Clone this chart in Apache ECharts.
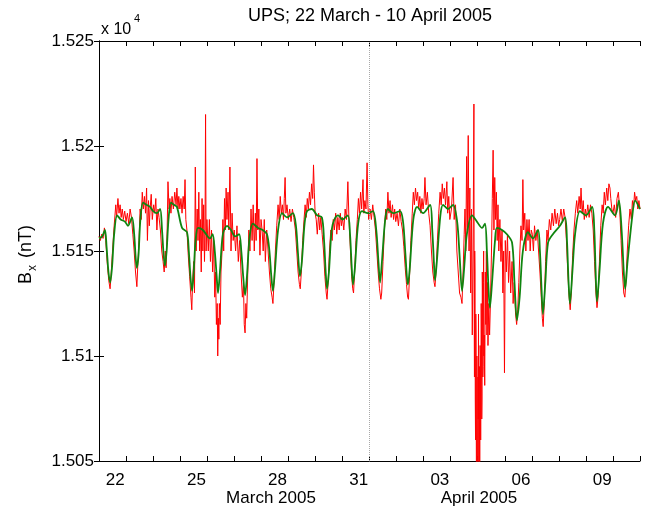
<!DOCTYPE html>
<html><head><meta charset="utf-8">
<script src="https://cdn.jsdelivr.net/npm/echarts@6/dist/echarts.min.js"></script>
<style>html,body{margin:0;padding:0;background:#fff}#c{width:646px;height:513px}</style>
</head><body><div id="c"></div>
<script>
// x = days since 22 March 2005 00:00 ; y = Bx in nT
const dayTickLabels = ['22','25','28','31','03','06','09'];
const dayTickPos = [0.6,3.6,6.6,9.6,12.6,15.6,18.6];
const monthLabels = ['March 2005','April 2005'];
const dividerDay = 10; // 1 April 00:00
const yMin = 15050, yMax = 15250, yStep = 50;

const greenPts = [
[0.00,15156],[0.12,15157],[0.22,15160],[0.28,15152],[0.35,15140],[0.41,15135],[0.48,15142],[0.56,15158],[0.67,15167],[0.80,15165],[0.96,15164],
[1.07,15162],[1.22,15166],[1.30,15158],[1.36,15146],[1.40,15142],[1.46,15148],[1.53,15165],[1.63,15173],[1.75,15172],[1.89,15171],
[2.00,15169],[2.14,15168],[2.26,15170],[2.33,15160],[2.39,15148],[2.44,15143],[2.50,15150],[2.57,15165],[2.66,15173],[2.77,15172],[2.88,15171],
[3.07,15161],[3.25,15159],[3.32,15150],[3.38,15138],[3.44,15131],[3.50,15140],[3.57,15155],[3.66,15161],[3.84,15160],
[4.10,15156],[4.20,15158],[4.28,15150],[4.35,15138],[4.40,15130],[4.47,15140],[4.58,15158],[4.73,15162],[4.88,15160],
[5.03,15157],[5.18,15158],[5.26,15150],[5.33,15138],[5.40,15129],[5.47,15138],[5.57,15157],[5.69,15163],[5.88,15161],
[6.05,15160],[6.21,15158],[6.30,15150],[6.37,15138],[6.43,15131],[6.50,15140],[6.62,15160],[6.77,15168],[6.95,15166],
[7.17,15168],[7.28,15162],[7.35,15150],[7.43,15138],[7.50,15145],[7.60,15163],[7.69,15169],[7.87,15170],
[8.06,15167],[8.24,15166],[8.32,15155],[8.38,15140],[8.43,15132],[8.50,15140],[8.60,15160],[8.70,15165],[8.84,15167],
[9.00,15165],[9.20,15167],[9.28,15158],[9.34,15143],[9.39,15134],[9.46,15142],[9.58,15163],[9.72,15169],[9.94,15168],
[10.13,15169],[10.25,15160],[10.33,15145],[10.39,15135],[10.46,15145],[10.58,15165],[10.68,15170],[10.87,15168],
[11.13,15169],[11.24,15164],[11.32,15150],[11.38,15138],[11.42,15134],[11.49,15142],[11.62,15165],[11.76,15171],[11.98,15168],
[12.24,15172],[12.32,15160],[12.38,15145],[12.42,15136],[12.49,15145],[12.62,15167],[12.72,15172],[12.90,15170],
[13.09,15172],[13.24,15164],[13.33,15148],[13.42,15131],[13.50,15142],[13.60,15158],[13.79,15167],[13.97,15164],
[14.16,15161],[14.27,15163],[14.34,15150],[14.40,15132],[14.45,15123],[14.53,15135],[14.64,15155],[14.71,15161],[14.90,15160],
[15.08,15158],[15.27,15154],[15.36,15135],[15.45,15117],[15.55,15128],[15.67,15150],[15.86,15159],
[16.04,15156],[16.23,15160],[16.30,15150],[16.36,15132],[16.41,15120],[16.50,15135],[16.60,15154],[16.78,15158],
[17.04,15162],[17.23,15166],[17.30,15155],[17.36,15135],[17.41,15125],[17.50,15140],[17.60,15158],[17.78,15169],
[18.00,15167],[18.23,15171],[18.31,15160],[18.36,15140],[18.41,15126],[18.50,15140],[18.63,15163],[18.82,15171],
[19.08,15167],[19.22,15174],[19.32,15160],[19.40,15140],[19.45,15132],[19.54,15145],[19.71,15166],[19.82,15174],[20.00,15170]
];

const redPts = [
[0.00,15157],[0.05,15155],[0.10,15158],[0.15,15156],[0.20,15161],[0.25,15155],[0.30,15145],[0.36,15136],[0.41,15132],[0.44,15137],[0.50,15150],[0.56,15162],[0.62,15172],[0.65,15166],[0.70,15175],[0.74,15168],[0.78,15172],[0.82,15166],[0.86,15170],[0.90,15165],[0.95,15169],
[1.00,15164],[1.05,15168],[1.10,15163],[1.15,15170],[1.20,15166],[1.25,15158],[1.30,15150],[1.35,15140],[1.40,15133],[1.43,15142],[1.48,15155],[1.52,15170],[1.56,15165],[1.60,15178],[1.64,15170],[1.68,15176],[1.72,15168],[1.76,15180],[1.79,15155],[1.83,15174],[1.86,15162],[1.89,15170],[1.93,15177],[1.97,15165],
[2.02,15172],[2.06,15168],[2.10,15175],[2.14,15160],[2.18,15170],[2.22,15166],[2.27,15160],[2.32,15150],[2.37,15145],[2.41,15140],[2.45,15150],[2.48,15142],[2.52,15160],[2.55,15183],[2.59,15170],[2.62,15175],[2.66,15168],[2.70,15176],[2.75,15170],[2.80,15178],[2.85,15172],[2.88,15180],[2.92,15170],[2.95,15176],[2.99,15170],
[3.03,15175],[3.07,15168],[3.11,15176],[3.15,15170],[3.18,15184],[3.21,15165],[3.25,15160],[3.30,15148],[3.35,15138],[3.40,15128],[3.43,15122],[3.46,15135],[3.50,15145],[3.53,15130],[3.56,15190],[3.59,15150],[3.63,15170],[3.66,15155],[3.69,15178],[3.72,15150],[3.75,15165],[3.78,15140],[3.81,15175],[3.84,15150],[3.87,15172],[3.90,15145],[3.92,15160],[3.94,15215],[3.96,15150],[3.99,15165],
[4.04,15150],[4.08,15165],[4.12,15145],[4.16,15160],[4.20,15140],[4.24,15155],[4.28,15128],[4.31,15140],[4.34,15115],[4.37,15125],[4.39,15100],[4.41,15118],[4.43,15108],[4.45,15125],[4.48,15115],[4.51,15140],[4.55,15150],[4.58,15165],[4.61,15150],[4.64,15175],[4.67,15160],[4.70,15180],[4.73,15165],[4.77,15178],[4.80,15160],[4.84,15190],[4.88,15150],[4.92,15168],[4.96,15155],
[5.00,15160],[5.05,15150],[5.10,15162],[5.15,15145],[5.20,15155],[5.25,15140],[5.30,15128],[5.34,15135],[5.37,15115],[5.40,15111],[5.43,15125],[5.46,15118],[5.50,15140],[5.54,15160],[5.58,15150],[5.62,15170],[5.66,15155],[5.70,15172],[5.74,15150],[5.78,15168],[5.81,15155],[5.84,15194],[5.87,15160],[5.91,15170],[5.95,15148],[5.99,15165],
[6.03,15160],[6.07,15150],[6.11,15165],[6.15,15145],[6.20,15160],[6.25,15150],[6.30,15140],[6.35,15132],[6.40,15128],[6.43,15125],[6.47,15135],[6.52,15150],[6.57,15162],[6.62,15172],[6.66,15165],[6.70,15176],[6.74,15168],[6.78,15172],[6.82,15165],[6.85,15175],[6.88,15185],[6.91,15168],[6.95,15172],
[7.00,15165],[7.05,15170],[7.10,15164],[7.15,15170],[7.20,15166],[7.26,15160],[7.31,15150],[7.36,15140],[7.41,15134],[7.44,15132],[7.48,15140],[7.53,15155],[7.58,15165],[7.62,15172],[7.66,15166],[7.70,15175],[7.74,15170],[7.78,15178],[7.82,15172],[7.86,15182],[7.90,15175],[7.93,15191],[7.96,15178],[7.99,15168],
[8.03,15165],[8.07,15158],[8.12,15168],[8.16,15160],[8.20,15166],[8.25,15158],[8.30,15150],[8.35,15138],[8.40,15130],[8.43,15127],[8.47,15135],[8.52,15150],[8.57,15160],[8.62,15155],[8.66,15165],[8.70,15160],[8.75,15168],[8.79,15158],[8.83,15166],[8.88,15160],[8.92,15168],[8.96,15162],
[9.00,15166],[9.05,15160],[9.10,15170],[9.15,15165],[9.20,15183],[9.24,15165],[9.29,15152],[9.34,15138],[9.38,15132],[9.41,15130],[9.45,15140],[9.50,15155],[9.55,15165],[9.59,15175],[9.63,15168],[9.67,15178],[9.71,15170],[9.76,15184],[9.79,15168],[9.83,15174],[9.87,15170],[9.91,15192],[9.94,15172],[9.97,15165],
[10.02,15170],[10.07,15165],[10.12,15172],[10.17,15166],[10.22,15160],[10.27,15150],[10.32,15140],[10.37,15132],[10.42,15127],[10.45,15130],[10.50,15145],[10.55,15160],[10.60,15170],[10.64,15165],[10.68,15178],[10.72,15168],[10.76,15174],[10.80,15166],[10.85,15172],[10.89,15165],[10.93,15170],[10.97,15164],
[11.02,15168],[11.07,15162],[11.12,15170],[11.17,15164],[11.22,15160],[11.27,15152],[11.32,15142],[11.37,15134],[11.41,15128],[11.44,15127],[11.48,15138],[11.53,15155],[11.58,15168],[11.62,15178],[11.66,15172],[11.70,15180],[11.74,15174],[11.78,15178],[11.82,15170],[11.86,15176],[11.90,15168],[11.94,15175],[11.98,15170],
[12.02,15175],[12.05,15185],[12.09,15172],[12.14,15178],[12.19,15168],[12.24,15162],[12.29,15150],[12.34,15140],[12.39,15135],[12.42,15133],[12.46,15140],[12.51,15155],[12.56,15168],[12.61,15178],[12.65,15172],[12.69,15182],[12.73,15175],[12.77,15180],[12.81,15172],[12.86,15183],[12.89,15168],[12.93,15176],[12.97,15165],
[13.03,15170],[13.09,15185],[13.13,15165],[13.18,15172],[13.23,15150],[13.28,15140],[13.33,15130],[13.38,15128],[13.42,15125],[13.46,15140],[13.50,15158],[13.53,15170],[13.56,15150],[13.59,15195],[13.62,15160],[13.65,15205],[13.68,15150],[13.71,15180],[13.74,15130],[13.77,15170],[13.80,15110],[13.83,15150],[13.86,15220],[13.87,15120],[13.88,15090],[13.89,15150],[13.90,15140],[13.91,15080],[13.92,15060],[13.93,15120],[13.94,15110],[13.95,15050],[13.96,15040],[13.97,15100],[13.98,15080],[13.99,15045],
[14.00,15030],[14.01,15090],[14.02,15070],[14.03,15120],[14.04,15040],[14.05,15075],[14.06,15095],[14.07,15045],[14.08,15050],[14.09,15105],[14.10,15100],[14.11,15060],[14.12,15060],[14.13,15125],[14.14,15110],[14.15,15070],[14.16,15080],[14.17,15140],[14.18,15130],[14.19,15090],[14.20,15095],[14.21,15135],[14.22,15150],[14.23,15100],[14.24,15110],[14.26,15086],[14.28,15140],[14.30,15115],[14.32,15150],[14.34,15110],[14.36,15135],[14.38,15105],[14.41,15125],[14.44,15110],[14.47,15125],[14.51,15150],[14.54,15175],[14.57,15198],[14.60,15160],[14.63,15185],[14.66,15165],[14.69,15178],[14.72,15155],[14.75,15172],[14.78,15150],[14.82,15165],[14.86,15145],[14.90,15160],[14.93,15130],[14.96,15150],[14.99,15092],
[15.02,15155],[15.06,15140],[15.10,15158],[15.14,15135],[15.18,15150],[15.22,15130],[15.27,15145],[15.31,15125],[15.35,15135],[15.40,15120],[15.44,15115],[15.48,15122],[15.52,15135],[15.56,15150],[15.60,15162],[15.64,15155],[15.67,15184],[15.70,15160],[15.74,15168],[15.78,15150],[15.82,15165],[15.86,15155],[15.90,15165],[15.94,15150],[15.98,15160],
[16.02,15158],[16.06,15150],[16.10,15162],[16.15,15155],[16.20,15160],[16.25,15150],[16.30,15140],[16.35,15128],[16.39,15118],[16.42,15114],[16.46,15125],[16.51,15145],[16.56,15160],[16.60,15155],[16.65,15165],[16.70,15160],[16.75,15168],[16.80,15162],[16.85,15170],[16.90,15163],[16.95,15168],[16.99,15162],
[17.03,15165],[17.08,15170],[17.13,15164],[17.18,15170],[17.23,15166],[17.28,15155],[17.33,15140],[17.38,15128],[17.42,15122],[17.46,15130],[17.51,15148],[17.56,15160],[17.61,15168],[17.66,15174],[17.70,15168],[17.75,15176],[17.79,15170],[17.82,15180],[17.86,15168],[17.90,15174],[17.94,15165],[17.98,15170],
[18.02,15166],[18.07,15172],[18.12,15166],[18.17,15172],[18.22,15168],[18.27,15160],[18.32,15145],[18.37,15130],[18.41,15123],[18.45,15128],[18.50,15145],[18.55,15162],[18.60,15172],[18.64,15168],[18.68,15178],[18.72,15172],[18.77,15180],[18.81,15174],[18.85,15182],[18.89,15180],[18.92,15175],[18.96,15170],
[19.00,15168],[19.05,15172],[19.10,15166],[19.15,15175],[19.20,15178],[19.25,15170],[19.30,15155],[19.35,15140],[19.40,15130],[19.44,15128],[19.48,15135],[19.53,15150],[19.58,15162],[19.63,15170],[19.68,15165],[19.72,15174],[19.76,15170],[19.80,15178],[19.84,15174],[19.88,15176],[19.92,15170],[19.96,15174],[20.00,15170]
];

const FONT = 'Liberation Sans, Arial, Helvetica, sans-serif';
const chart = echarts.init(document.getElementById('c'), null, {renderer:'canvas'});
const axLine = {show:true, lineStyle:{color:'#000', width:1}};
const baseX = {type:'value', min:0, max:20, splitLine:{show:false}};
const baseY = {type:'value', min:yMin, max:yMax, interval:yStep, splitLine:{show:false}};

chart.setOption({
  animation:false,
  backgroundColor:'#fff',
  grid:{left:99, right:6, top:41, bottom:52, containLabel:false},
  xAxis:[
    Object.assign({}, baseX, {position:'bottom', interval:1, axisLine:axLine,
      axisTick:{show:true, inside:true, length:5, lineStyle:{color:'#000'}}, axisLabel:{show:false}}),
    Object.assign({}, baseX, {position:'bottom', interval:0.1, axisLine:{show:false}, axisTick:{show:false},
      axisLabel:{show:true, color:'#000', fontFamily:FONT, fontSize:17, margin:11,
        formatter:function(v){ const i = dayTickPos.findIndex(p => Math.abs(p - v) < 1e-6); return i >= 0 ? dayTickLabels[i] : ''; }}}),
    Object.assign({}, baseX, {position:'top', interval:1, axisLine:axLine,
      axisTick:{show:true, inside:true, length:5, lineStyle:{color:'#000'}}, axisLabel:{show:false}})
  ],
  yAxis:[
    Object.assign({}, baseY, {position:'left', axisLine:axLine,
      axisTick:{show:true, inside:true, length:5, lineStyle:{color:'#000'}},
      axisLabel:{show:true, color:'#000', fontFamily:FONT, fontSize:17, margin:5,
        formatter:function(v){ return String(+(v/1e4).toFixed(4)); }}}),
    Object.assign({}, baseY, {position:'right', axisLine:axLine,
      axisTick:{show:true, inside:true, length:5, lineStyle:{color:'#000'}}, axisLabel:{show:false}})
  ],
  graphic:[
    {type:'text', x:370, y:16, style:{text:'UPS; 22 March - 10 April 2005', font:'18px '+FONT, fill:'#000', align:'center', verticalAlign:'middle'}},
    {type:'text', x:101, y:30, style:{text:'x 10', font:'16px '+FONT, fill:'#000', align:'left', verticalAlign:'middle'}},
    {type:'text', x:134, y:19, style:{text:'4', font:'11px '+FONT, fill:'#000', align:'left', verticalAlign:'middle'}},
    {type:'text', x:271, y:498, style:{text:monthLabels[0], font:'17px '+FONT, fill:'#000', align:'center', verticalAlign:'middle'}},
    {type:'text', x:479, y:498, style:{text:monthLabels[1], font:'17px '+FONT, fill:'#000', align:'center', verticalAlign:'middle'}},
    {type:'group', x:26, y:251, rotation:Math.PI/2, children:[
      {type:'text', x:-33, y:0, style:{text:'B', font:'18px '+FONT, fill:'#000', align:'left', verticalAlign:'middle'}},
      {type:'text', x:-20, y:7, style:{text:'x', font:'12px '+FONT, fill:'#000', align:'left', verticalAlign:'middle'}},
      {type:'text', x:-7, y:0, style:{text:'(nT)', font:'18px '+FONT, fill:'#000', align:'left', verticalAlign:'middle'}}
    ]}
  ],
  series:[
    {type:'line', name:'observed', xAxisIndex:0, yAxisIndex:0, data:redPts, showSymbol:false, symbol:'none',
      lineStyle:{color:'#ff0000', width:1}, z:2, silent:true,
      markLine:{silent:true, symbol:'none', label:{show:false}, lineStyle:{type:'dotted', color:'#a8a8a8', width:1},
        data:[{xAxis:dividerDay}]}},
    {type:'line', name:'model', xAxisIndex:0, yAxisIndex:0, data:greenPts, showSymbol:false, symbol:'none', smooth:0.3,
      lineStyle:{color:'#0f850f', width:1.8}, z:3, silent:true}
  ]
});
</script>
</body></html>
